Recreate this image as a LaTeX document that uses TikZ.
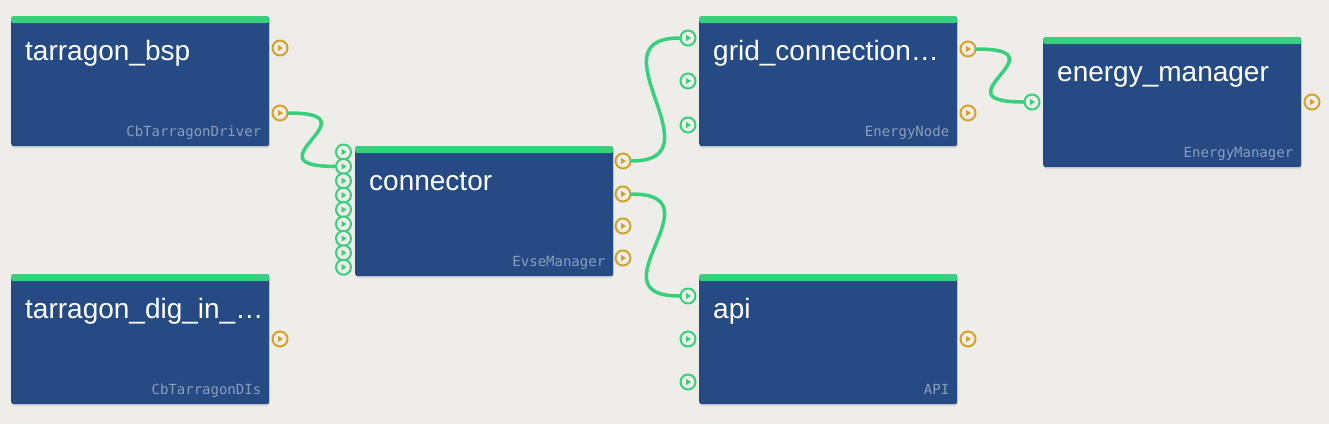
\documentclass[tikz,border=0pt]{standalone}
\usepackage{fontspec}
\setsansfont{Liberation Sans}
\newfontfamily\kindfont{DejaVu Sans Mono}
\usetikzlibrary{calc, positioning, shadows}

\definecolor{canvas}{HTML}{EEEDE9}
\definecolor{modblue}{HTML}{254A84}
\definecolor{modgreen}{HTML}{38CF7D}
\definecolor{portgold}{HTML}{D4A12A}
\definecolor{kindgray}{HTML}{8C9DBB}

\tikzset{
  module/.style = {fill=modblue, rounded corners=2.5pt, anchor=north west, inner sep=0pt,
    minimum width=258pt, minimum height=130pt,
    drop shadow={opacity=0.2, shadow xshift=0.8pt, shadow yshift=-1.8pt},
    path picture={\fill[modgreen] (path picture bounding box.north west)
      rectangle ([yshift=-7pt]path picture bounding box.north east);}},
  title/.style = {anchor=base west, inner sep=0pt, text=white,
    font=\sffamily\fontsize{28}{32}\selectfont},
  kind/.style = {anchor=base east, inner sep=0pt, text=kindgray,
    font=\kindfont\fontsize{14}{16}\selectfont},
  port/.style = {circle, draw=#1, line width=2pt, fill=canvas, minimum size=15pt, inner sep=0pt,
    path picture={\fill[#1] ([shift={(-1.8pt,3pt)}]path picture bounding box.center)
      -- ++(4.8pt,-3pt) -- ++(-4.8pt,-3pt) -- cycle;}},
  inport/.style = {port=modgreen},
  outport/.style = {port=portgold},
  wire/.style = {draw=modgreen, line width=3.5pt, line cap=round}
}

\begin{document}
\begin{tikzpicture}[x=1pt, y=-1pt]
  \useasboundingbox[fill=canvas] (0,0) rectangle (1329,424);

  % modules
  \path (11,16) node[module] (bsp) {}
      ++(0,258) node[module] (dig) {}
      ++(344,-128) node[module] (con) {}
      ++(344,-130) node[module] (grid) {}
      ++(0,258) node[module] (api) {}
      ++(344,-237) node[module] (em) {};

  \foreach \m/\t/\k in {bsp/tarragon\_bsp/CbTarragonDriver, dig/tarragon\_dig\_in\_…/CbTarragonDIs,
      con/connector/EvseManager, grid/grid\_connection…/EnergyNode, api/api/API, em/energy\_manager/EnergyManager} {
    \node[title] (\m Title) at ([shift={(14pt,-44pt)}]\m.north west) {\t};
    \node[kind] (\m Kind) at ([shift={(-8pt,10pt)}]\m.south east) {\k};
  }

  % ports
  \node[outport] (bspO1) at (280,48) {};
  \node[outport] (bspO2) at (280,113) {};
  \node[outport] (digO1) at (280,339) {};
  \foreach \i in {1,...,9}
    \node[inport] (conI\i) at (343.5,{152+(\i-1)*14.4}) {};
  \foreach \y [count=\i] in {161,194,226,258}
    \node[outport] (conO\i) at (623,\y) {};
  \foreach \y [count=\i] in {38,81,125}
    \node[inport] (gridI\i) at (688,\y) {};
  \foreach \y [count=\i] in {49,113}
    \node[outport] (gridO\i) at (968,\y) {};
  \foreach \y [count=\i] in {296,339,382}
    \node[inport] (apiI\i) at (688,\y) {};
  \node[outport] (apiO1) at (968,339) {};
  \node[inport] (emI1) at (1032,102) {};
  \node[outport] (emO1) at (1312,102) {};

  % wires
  \draw[wire] (bspO2.east) .. controls +(90,0) and +(-90,0) .. (conI2.west);
  \draw[wire] (conO1.east) .. controls +(90,0) and +(-90,0) .. (gridI1.west);
  \draw[wire] (conO2.east) .. controls +(90,0) and +(-90,0) .. (apiI1.west);
  \draw[wire] (gridO1.east) .. controls +(90,0) and +(-90,0) .. (emI1.west);
\end{tikzpicture}
\end{document}
